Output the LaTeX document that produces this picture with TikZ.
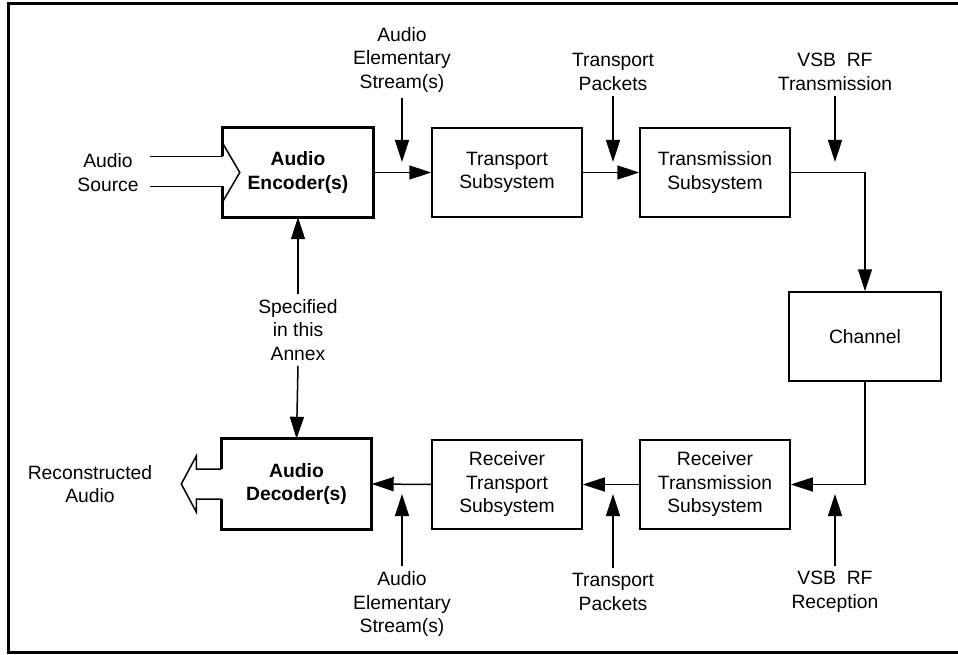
\documentclass[tikz,border=0pt]{standalone}
\usepackage{fontspec}
\setmainfont{Liberation Sans}
\usetikzlibrary{arrows.meta,calc}

\begin{document}
\begin{tikzpicture}[x=1pt,y=-1pt,
  txt/.style={font=\fontsize{19.3}{23.5}\selectfont, align=center, inner sep=5pt},
  blk/.style={draw, line width=1.5pt, minimum width=150pt, minimum height=89pt,
              inner sep=0pt, font=\fontsize{19.3}{23.5}\selectfont, align=center},
  coder/.style={minimum width=150pt, minimum height=89pt, inner sep=0pt,
                font=\fontsize{19.3}{23.5}\selectfont\bfseries, align=center},
  conn/.style={line width=1.5pt, -{Triangle[length=22pt,width=14pt]}},
  thin/.style={line width=1.5pt, line join=miter},
  heavy/.style={line width=3.2pt, line join=miter},
  frame/.style={line width=3pt}]

  \useasboundingbox (0,0) rectangle (958,655);
  \draw[frame] (958,4) -- (8,4) -- (8,652) -- (958,652);

  % transmit chain
  \node[coder] (enc) at (298,172.5) {Audio\\Encoder(s)};
  \node[blk] (trans) at (507,172.5) {Transport\\Subsystem};
  \node[blk] (txs) at (715,172.5) {Transmission\\Subsystem};
  \node[blk, minimum width=152pt] (chan) at (865,336.5) {Channel};

  % receive chain
  \node[blk] (rtx) at (715,484.5) {Receiver\\Transmission\\Subsystem};
  \node[blk] (rtp) at (507,484.5) {Receiver\\Transport\\Subsystem};
  \node[coder, minimum height=90pt] (dec) at (296.5,484) {Audio\\Decoder(s)};

  % encoder outline with notched input
  \coordinate (encU) at ($(enc.west)+(0,-16)$);
  \coordinate (encL) at ($(enc.west)+(0,14)$);
  \draw[heavy] (encU) -- (enc.north west) -- (enc.north east)
               -- (enc.south east) -- (enc.south west) -- (encL);
  \draw[thin] ($(enc.west)+(0,-29)$) -- ($(enc.west)+(17,0)$) -- ($(enc.west)+(0,29)$);
  \node[txt] (src) at (108,172.5) {Audio\\Source};
  \coordinate (srcU) at (150,156.5);
  \coordinate (srcL) at (150,186.5);
  \draw[thin] (srcU) -- (encU);
  \draw[thin] (srcL) -- (encL);

  % decoder outline with block output arrow
  \coordinate (decU) at ($(dec.west)+(0,-15)$);
  \coordinate (decL) at ($(dec.west)+(0,15)$);
  \draw[heavy] (decU) -- (dec.north west) -- (dec.north east)
               -- (dec.south east) -- (dec.south west) -- (decL);
  \draw[thin] (decU) -- ++(-25,0) -- ++(0,-13) -- ($(dec.west)+(-40,0)$)
              -- ($(dec.west)+(-25,28)$) -- ++(0,-13) -- (decL);
  \node[txt] (rec) at (90,484) {Reconstructed\\Audio};

  % signal path
  \draw[conn] (enc.east) -- (trans.west);
  \draw[conn] (trans.east) -- (txs.west);
  \draw[conn] (txs.east) -| (chan.north);
  \draw[conn] (chan.south) |- (rtx.east);
  \draw[conn] (rtx.west) -- (rtp.east);
  \draw[conn] (rtp.west) -- (dec.east);

  % annotations above the transmit chain
  \node[txt] (aesT) at (402,60) {Audio\\Elementary\\Stream(s)};
  \node[txt] (tpT) at (613,72) {Transport\\Packets};
  \node[txt] (vsbT) at (835,72) {VSB\ \ RF\\Transmission};
  \coordinate (aesTp) at (402,162);
  \coordinate (tpTp) at (613,162);
  \coordinate (vsbTp) at (835,162);
  \draw[conn] (aesT.south) -- (aesTp);
  \draw[conn] (tpT.south) -- (tpTp);
  \draw[conn] (vsbT.south) -- (vsbTp);

  % annotations below the receive chain
  \node[txt] (aesB) at (402,604) {Audio\\Elementary\\Stream(s)};
  \node[txt] (tpB) at (613,592) {Transport\\Packets};
  \node[txt] (vsbB) at (835,592) {VSB\ \ RF\\Reception};
  \coordinate (aesBp) at (402,494);
  \coordinate (tpBp) at (613,494);
  \coordinate (vsbBp) at (835,494);
  \draw[conn] (aesB.north) -- (aesBp);
  \draw[conn] (tpB.north) -- (tpBp);
  \draw[conn] (vsbB.north) -- (vsbBp);

  % scope of this annex
  \node[txt] (spec) at (298,330) {Specified\\in this\\Annex};
  \draw[conn] (spec.north) -- (enc.south);
  \draw[conn] (spec.south) -- (dec.north);
\end{tikzpicture}
\end{document}
